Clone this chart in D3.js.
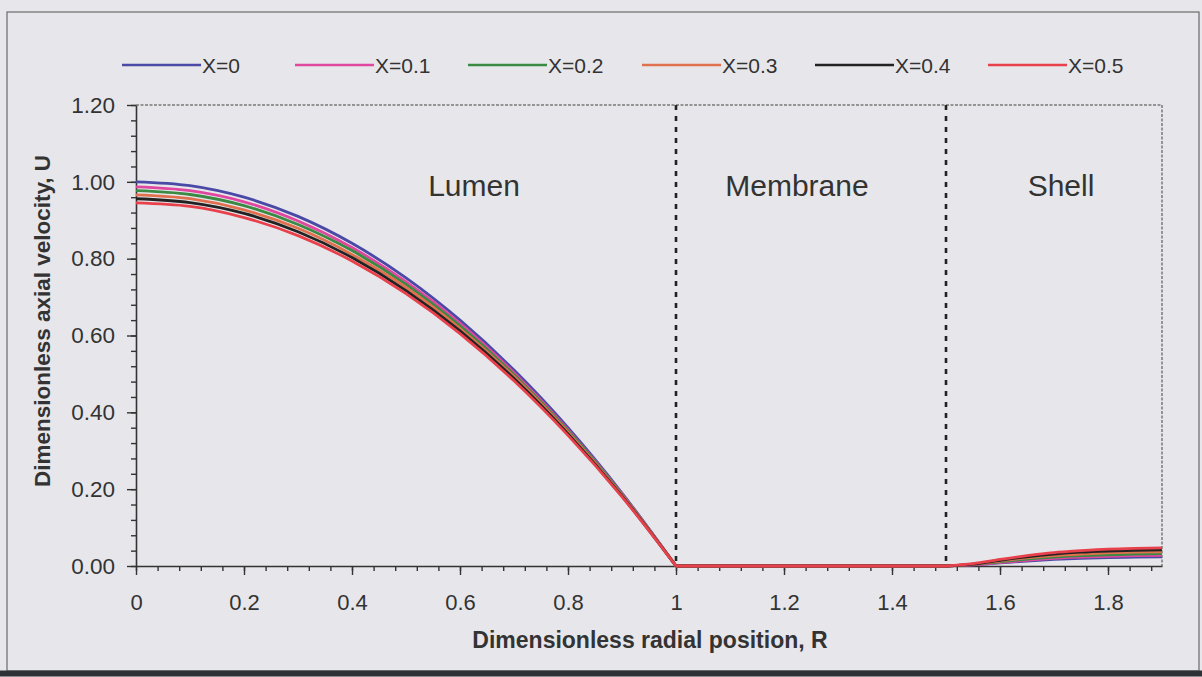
<!DOCTYPE html>
<html>
<head>
<meta charset="utf-8">
<script src="https://cdn.jsdelivr.net/npm/d3@7"></script>
<style>
  html, body { margin: 0; padding: 0; background: #e7e7eb; }
  svg { display: block; }
  text { font-family: "Liberation Sans", Arial, sans-serif; fill: #333; }
</style>
</head>
<body>
<svg id="chart" width="1202" height="677"></svg>
<script>
// Radial grid: lumen (0–1), membrane (1–1.5), shell (1.5–1.9)
const radialPosition = [0, 0.1, 0.2, 0.3, 0.4, 0.5, 0.6, 0.7, 0.8, 0.9, 1.0,
  1.1, 1.2, 1.3, 1.4, 1.5,
  1.55, 1.6, 1.65, 1.7, 1.75, 1.8, 1.85, 1.9];

const seriesNames = ["X=0", "X=0.1", "X=0.2", "X=0.3", "X=0.4", "X=0.5"];
const seriesColors = ["#4a4aa6", "#e0479f", "#3b8a44", "#e0704e", "#222222", "#e8414c"];

const velocityX0 = [1.000, 0.990, 0.960, 0.910, 0.840, 0.750, 0.640, 0.510, 0.360, 0.190, 0.000,
  0.000, 0.000, 0.000, 0.000, 0.000,
  0.003, 0.008, 0.013, 0.017, 0.020, 0.022, 0.023, 0.024];
const velocityX01 = [0.987, 0.977, 0.948, 0.898, 0.829, 0.740, 0.632, 0.503, 0.355, 0.188, 0.000,
  0.000, 0.000, 0.000, 0.000, 0.000,
  0.003, 0.009, 0.015, 0.020, 0.023, 0.025, 0.027, 0.028];
const velocityX02 = [0.977, 0.967, 0.938, 0.889, 0.821, 0.733, 0.625, 0.498, 0.352, 0.186, 0.000,
  0.000, 0.000, 0.000, 0.000, 0.000,
  0.004, 0.011, 0.018, 0.023, 0.027, 0.029, 0.031, 0.032];
const velocityX03 = [0.966, 0.956, 0.927, 0.879, 0.811, 0.725, 0.618, 0.493, 0.348, 0.184, 0.000,
  0.000, 0.000, 0.000, 0.000, 0.000,
  0.005, 0.013, 0.021, 0.027, 0.031, 0.034, 0.036, 0.037];
const velocityX04 = [0.956, 0.946, 0.918, 0.870, 0.803, 0.717, 0.612, 0.488, 0.344, 0.182, 0.000,
  0.000, 0.000, 0.000, 0.000, 0.000,
  0.005, 0.015, 0.024, 0.031, 0.036, 0.039, 0.041, 0.042];
const velocityX05 = [0.945, 0.936, 0.907, 0.860, 0.794, 0.709, 0.605, 0.482, 0.340, 0.180, 0.000,
  0.000, 0.000, 0.000, 0.000, 0.000,
  0.006, 0.017, 0.027, 0.035, 0.040, 0.044, 0.046, 0.047];

const xTickValues = [0, 0.2, 0.4, 0.6, 0.8, 1, 1.2, 1.4, 1.6, 1.8];
const xTickLabels = ["0", "0.2", "0.4", "0.6", "0.8", "1", "1.2", "1.4", "1.6", "1.8"];
const yTickValues = [0, 0.2, 0.4, 0.6, 0.8, 1.0, 1.2];
const yTickLabels = ["0.00", "0.20", "0.40", "0.60", "0.80", "1.00", "1.20"];

const regionBoundaries = [1, 1.5];
const regionNames = ["Lumen", "Membrane", "Shell"];
const regionLabelX = [0.626, 1.224, 1.713];

const allSeries = [velocityX0, velocityX01, velocityX02, velocityX03, velocityX04, velocityX05];

const svg = d3.select("#chart");
const W = 1202, H = 677;

// outer frame
svg.append("rect").attr("x", 7).attr("y", 12).attr("width", 1192).attr("height", 659)
  .attr("fill", "#e7e7eb").attr("stroke", "#6a6a6a").attr("stroke-width", 1.2);
svg.append("line").attr("x1", 0).attr("x2", W).attr("y1", 673.5).attr("y2", 673.5)
  .attr("stroke", "#2e3236").attr("stroke-width", 6);

const plot = { left: 136, right: 1162, top: 105, bottom: 566 };
const x = d3.scaleLinear().domain([0, 1.9]).range([plot.left, plot.right]);
const y = d3.scaleLinear().domain([0, 1.2]).range([plot.bottom, plot.top]);

// dotted top/right borders of the plot area
svg.append("path")
  .attr("d", `M${plot.left},${plot.top}H${plot.right}V${plot.bottom}`)
  .attr("fill", "none").attr("stroke", "#7a7a7a").attr("stroke-width", 1.5)
  .attr("stroke-dasharray", "3,1.5");

// minor ticks
const xMinor = d3.range(0, 1.9, 0.04);
const yMinor = d3.range(0, 1.2001, 0.04);

const xAxis = svg.append("g").attr("transform", `translate(0,${plot.bottom})`);
xAxis.append("g").call(d3.axisBottom(x).tickValues(xMinor).tickSize(5).tickFormat(""))
  .call(g => g.select(".domain").remove());
xAxis.append("g").call(d3.axisBottom(x).tickValues(xTickValues).tickSize(9)
    .tickFormat((d, i) => xTickLabels[i]).tickSizeOuter(0))
  .call(g => g.select(".domain").attr("stroke", "#333").attr("stroke-width", 1.6))
  .call(g => g.selectAll("text").attr("font-size", 22).attr("dy", "1.45em").attr("fill", "#333"));
xAxis.selectAll("line").attr("stroke", "#333").attr("stroke-width", 1.4);

const yAxis = svg.append("g").attr("transform", `translate(${plot.left},0)`);
yAxis.append("g").call(d3.axisLeft(y).tickValues(yMinor).tickSize(5).tickFormat(""))
  .call(g => g.select(".domain").remove());
yAxis.append("g").call(d3.axisLeft(y).tickValues(yTickValues).tickSize(9)
    .tickFormat((d, i) => yTickLabels[i]).tickSizeOuter(0))
  .call(g => g.select(".domain").attr("stroke", "#333").attr("stroke-width", 1.6))
  .call(g => g.selectAll("text").attr("font-size", 22.5).attr("x", -21).attr("fill", "#333"));
yAxis.selectAll("line").attr("stroke", "#333").attr("stroke-width", 1.4);
svg.selectAll(".tick text").attr("font-family", "'Liberation Sans', Arial, sans-serif");

// region boundaries
svg.selectAll(".boundary").data(regionBoundaries).join("line")
  .attr("class", "boundary")
  .attr("x1", d => x(d)).attr("x2", d => x(d))
  .attr("y1", plot.top).attr("y2", plot.bottom)
  .attr("stroke", "#222").attr("stroke-width", 2.6).attr("stroke-dasharray", "5,6");

// region labels
svg.selectAll(".region").data(regionNames).join("text")
  .attr("class", "region")
  .attr("x", (d, i) => x(regionLabelX[i])).attr("y", 196)
  .attr("text-anchor", "middle").attr("font-size", 30)
  .text(d => d);

// velocity profiles, smoothed within each region so the kinks at the
// region boundaries stay sharp
const line = d3.line().x(d => x(d[0])).y(d => y(d[1])).curve(d3.curveMonotoneX);
const segments = [[0, 1], [1, 1.5], [1.5, 1.9]];
allSeries.forEach((vals, i) => {
  const pts = radialPosition.map((r, j) => [r, vals[j]]);
  const d = segments.map(([a, b]) => line(pts.filter(p => p[0] >= a - 1e-9 && p[0] <= b + 1e-9))).join("");
  svg.append("path")
    .attr("d", d)
    .attr("fill", "none").attr("stroke", seriesColors[i])
    .attr("stroke-width", 2.8).attr("stroke-linejoin", "round");
});

// legend
const legendLineX = [122, 295, 468, 642, 815, 988];
const legend = svg.selectAll(".legend").data(seriesNames).join("g")
  .attr("class", "legend")
  .attr("transform", (d, i) => `translate(${legendLineX[i]},65)`);
legend.append("line").attr("x1", 0).attr("x2", 79).attr("y1", 0).attr("y2", 0)
  .attr("stroke", (d, i) => seriesColors[i]).attr("stroke-width", 2.6);
legend.append("text").attr("x", 80).attr("y", 8).attr("font-size", 21)
  .text(d => d);

// axis titles
svg.append("text").attr("x", 650).attr("y", 648).attr("text-anchor", "middle")
  .attr("font-size", 23).attr("font-weight", "bold").attr("fill", "#333")
  .text("Dimensionless radial position, R");
svg.append("text").attr("transform", "translate(50,321) rotate(-90)")
  .attr("text-anchor", "middle").attr("font-size", 22.5).attr("font-weight", "bold")
  .attr("fill", "#333")
  .text("Dimensionless axial velocity, U");
</script>
</body>
</html>
